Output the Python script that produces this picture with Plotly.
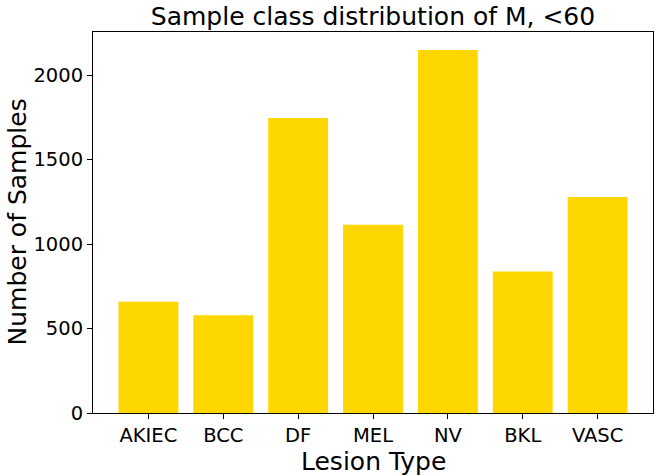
import plotly.graph_objects as go

categories = ["AKIEC", "BCC", "DF", "MEL", "NV", "BKL", "VASC"]
counts = [659, 578, 1746, 1114, 2148, 838, 1279]
y_ticks = [0, 500, 1000, 1500, 2000]

title_text = "Sample class distribution of M, <60"
x_title = "Lesion Type"
y_title = "Number of Samples"

fig = go.Figure(
    go.Bar(
        x=list(range(len(categories))),
        y=counts,
        width=0.8,
        marker=dict(color="#FFD700", line=dict(width=0)),
        hoverinfo="x+y",
    )
)

font = "DejaVu Sans"
fig.update_layout(
    width=664,
    height=476,
    margin=dict(l=93, r=11, t=32, b=63),
    paper_bgcolor="white",
    plot_bgcolor="white",
    showlegend=False,
    title=dict(
        text=title_text,
        font=dict(family=font, size=25, color="black"),
        xref="paper",
        x=0.5,
        xanchor="center",
        yref="container",
        y=1 - 16 / 476,
        yanchor="middle",
    ),
    font=dict(family=font, color="black"),
    annotations=[
        dict(
            text=x_title, xref="paper", yref="paper", x=0.5, y=0,
            xanchor="center", yanchor="middle", yshift=-48, showarrow=False,
            font=dict(family=font, size=25, color="black"),
        ),
        dict(
            text=y_title, xref="paper", yref="paper", x=0, y=0.5,
            xanchor="center", yanchor="middle", xshift=-76, textangle=-90, showarrow=False,
            font=dict(family=font, size=25, color="black"),
        ),
    ],
)

fig.update_xaxes(
    range=[-0.74, 6.74],
    tickmode="array",
    tickvals=list(range(len(categories))),
    ticktext=categories,
    tickfont=dict(family=font, size=19.5, color="black"),
    ticks="outside",
    ticklen=5,
    tickcolor="black",
    showline=True,
    linecolor="black",
    linewidth=1,
    mirror=True,
    showgrid=False,
    zeroline=False,
    automargin=False,
)
fig.update_yaxes(
    range=[0, 2255],
    tickmode="array",
    tickvals=y_ticks,
    ticktext=[str(v) for v in y_ticks],
    tickfont=dict(family=font, size=19.5, color="black"),
    ticks="outside",
    ticklen=5,
    tickcolor="black",
    showline=True,
    linecolor="black",
    linewidth=1,
    mirror=True,
    showgrid=False,
    zeroline=False,
    automargin=False,
)

fig.write_html(
    "out.html",
    config={"displayModeBar": False},
    post_script="document.body.style.margin='0';",
)
